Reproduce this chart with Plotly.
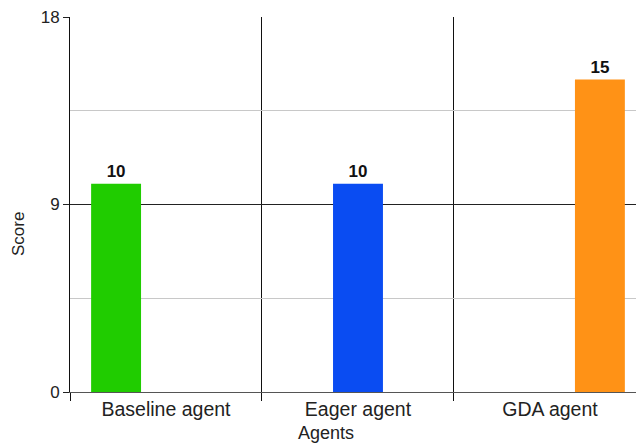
import plotly.graph_objects as go

categories = ["Baseline agent", "Eager agent", "GDA agent"]
series_names = ["Baseline agent", "Eager agent", "GDA agent"]
scores = [10, 10, 15]
colors = ["#20CC00", "#0A4CF2", "#FF9216"]
y_ticks = [0, 9, 18]

fig = go.Figure()
for i, name in enumerate(series_names):
    yv = [None] * len(categories)
    yv[i] = scores[i]
    fig.add_trace(go.Bar(
        x=list(range(len(categories))), y=yv, name=name,
        marker=dict(color=colors[i], line=dict(width=0)),
        text=[str(v) if v is not None else "" for v in yv],
        textposition="outside", cliponaxis=False,
        textfont=dict(family="Liberation Sans, Arial", size=17, color="#111"),
        texttemplate="<b>%{text}</b>",
    ))

fig.update_layout(
    width=636, height=443,
    margin=dict(l=70, r=0, t=17, b=51, autoexpand=False),
    paper_bgcolor="white", plot_bgcolor="white",
    barmode="group", bargap=0.22, bargroupgap=0,
    showlegend=False,
    font=dict(family="Liberation Sans, Arial", size=17, color="#222"),
    xaxis=dict(
        range=[-0.5, 2.448],
        tickmode="array", tickvals=list(range(len(categories))), ticktext=categories,
        ticks="", showgrid=False, zeroline=False,
        showline=True, linecolor="#555", linewidth=1,
        tickfont=dict(size=19.5, color="#222"),
        automargin=False,
        minor=dict(tickmode="linear", tick0=0.5, dtick=1, showgrid=True,
                   gridcolor="#111", gridwidth=1, ticks="outside", ticklen=8,
                   tickcolor="#111"),
    ),
    yaxis=dict(
        range=[0, 18], tickvals=y_ticks,
        ticks="outside", ticklen=6, tickcolor="#222",
        showgrid=True, gridcolor="#222", gridwidth=1,
        zeroline=False,
        showline=True, linecolor="#111", linewidth=1,
        tickfont=dict(size=17, color="#222"),
        automargin=False,
        minor=dict(tickmode="linear", tick0=4.5, dtick=9, showgrid=True,
                   gridcolor="#c8c8c8", gridwidth=1, ticks=""),
    ),
    annotations=[
        dict(text="Score", textangle=-90, xref="paper", yref="paper",
             x=-0.092, y=0.421, xanchor="center", yanchor="middle",
             showarrow=False, font=dict(size=17, color="#222")),
        dict(text="Agents", xref="paper", yref="paper",
             x=0.452, y=-0.109, xanchor="center", yanchor="middle",
             showarrow=False, font=dict(size=18, color="#222")),
    ],
)

fig.write_html("out.html")
